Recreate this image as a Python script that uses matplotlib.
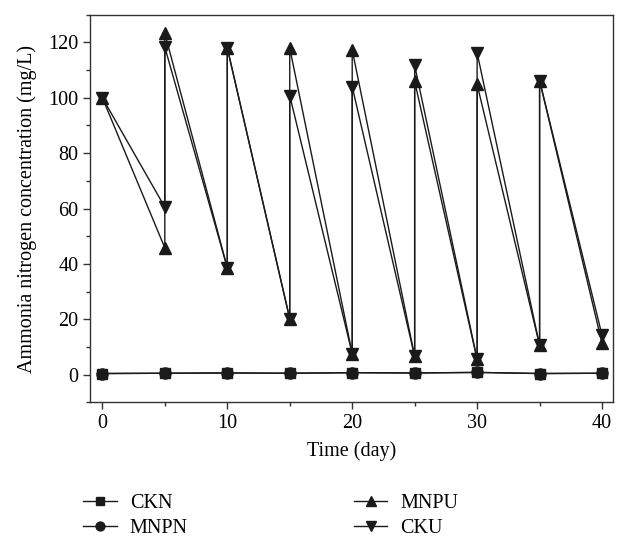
import matplotlib
matplotlib.use("Agg")
import matplotlib.pyplot as plt
from matplotlib.ticker import MultipleLocator

plt.rcParams['font.family'] = ['Liberation Serif', 'DejaVu Serif']

# Sampling days (day 0..40, every 5 days)
days = [0, 5, 10, 15, 20, 25, 30, 35, 40]
ckn = [0.4, 0.5, 0.6, 0.5, 0.7, 0.6, 0.8, 0.4, 0.5]
mnpn = [0.4, 0.5, 0.6, 0.5, 0.7, 0.6, 0.8, 0.4, 0.5]

# Urea-fed series: value before replenishment (low) and after (high) at days 5..35
days_saw = [0, 5, 5, 10, 10, 15, 15, 20, 20, 25, 25, 30, 30, 35, 35, 40]
mnpu = [100, 45.8, 123.3, 38.6, 118.0, 20.2, 118.0, 7.6, 117.3, 6.6, 105.9, 5.5, 104.8, 10.6, 106.2, 11.3]
cku = [100, 60.5, 118.3, 38.6, 118.0, 20.2, 100.8, 7.6, 104.0, 6.6, 111.7, 5.5, 116.2, 10.6, 106.2, 14.2]

labels = ['CKN', 'MNPN', 'MNPU', 'CKU']

fig = plt.figure(figsize=(6.18, 5.38), dpi=100)
ax = fig.add_axes([0.1464, 0.2522, 0.9924 - 0.1464, 0.9727 - 0.2522])

col = '#1a1a1a'
lw = 1.0
ms = 9
h1, = ax.plot(days, ckn, color=col, lw=lw, marker='s', ms=7.5, label=labels[0])
h2, = ax.plot(days, mnpn, color=col, lw=lw, marker='o', ms=8, label=labels[1])
h3, = ax.plot(days_saw, mnpu, color=col, lw=lw, marker='^', ms=ms, label=labels[2])
h4, = ax.plot(days_saw, cku, color=col, lw=lw, marker='v', ms=ms, label=labels[3])

ax.set_xlim(-0.95, 40.9)
ax.set_ylim(-10, 130)
ax.xaxis.set_major_locator(MultipleLocator(10))
ax.xaxis.set_minor_locator(MultipleLocator(5))
ax.yaxis.set_major_locator(MultipleLocator(20))
ax.yaxis.set_minor_locator(MultipleLocator(10))
ax.tick_params(which='major', direction='out', length=5, width=1.0, labelsize=14.5, color='#333333')
ax.tick_params(which='minor', direction='out', length=3, width=1.0, color='#333333')
for s in ax.spines.values():
    s.set_linewidth(1.0)
    s.set_color('#333333')

ax.set_xlabel('Time (day)', fontsize=14.5, labelpad=6)
ax.set_ylabel('Ammonia nitrogen concentration (mg/L)', fontsize=14.5, labelpad=8)

leg = fig.legend(handles=[h1, h2, h3, h4], labels=labels, ncol=2,
                 loc='upper left', bbox_to_anchor=(0.135, 0.082),
                 frameon=False, fontsize=14.5, handlelength=1.65,
                 handletextpad=0.65, labelspacing=0.3, columnspacing=8.25,
                 markerscale=0.8, borderaxespad=0, borderpad=0)

fig.savefig('out.png', dpi=100)
